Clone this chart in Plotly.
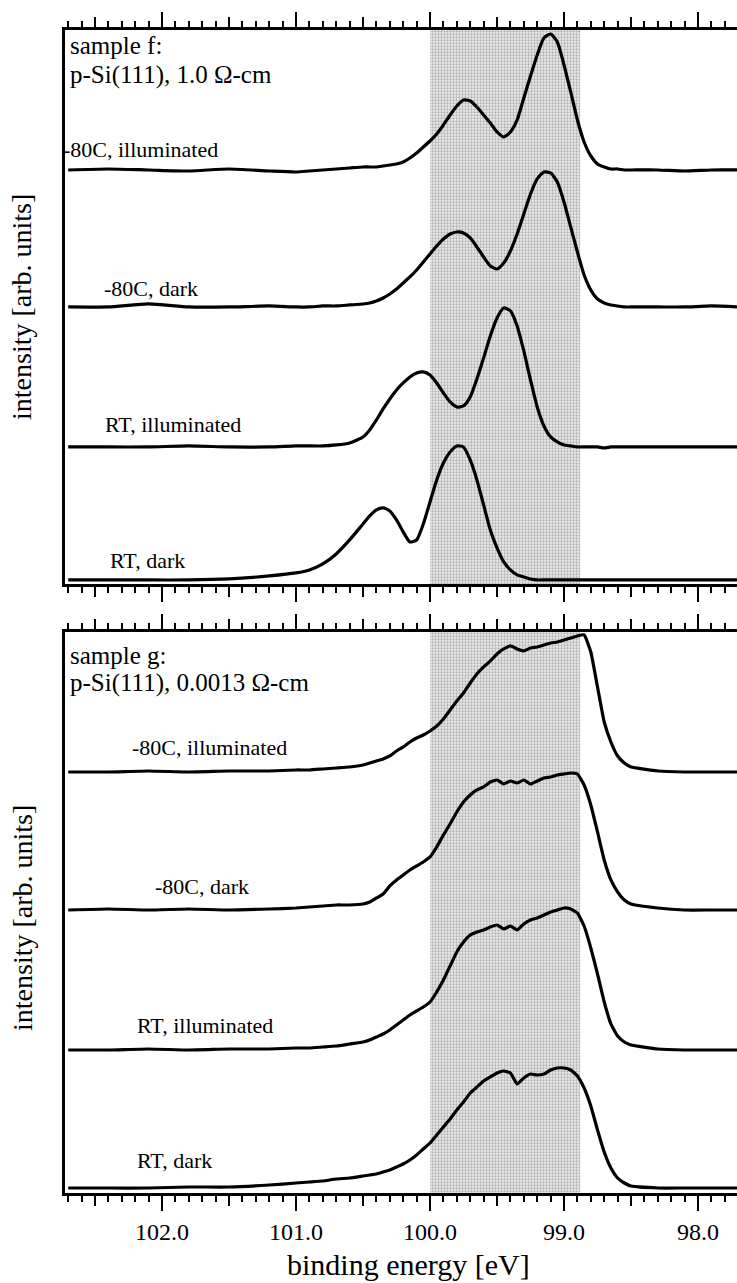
import plotly.graph_objects as go

# Binding-energy grid shared by all spectra [eV]
energy_ev = [102.7, 102.4, 102.1, 101.8, 101.5, 101.2, 101.0, 100.9, 100.8, 100.7,
             100.6, 100.5, 100.45, 100.4, 100.35, 100.3, 100.25, 100.2, 100.15, 100.1,
             100.05, 100.0, 99.95, 99.9, 99.85, 99.8, 99.75, 99.7, 99.65, 99.6,
             99.55, 99.5, 99.45, 99.4, 99.35, 99.3, 99.25, 99.2, 99.15, 99.1,
             99.05, 99.0, 98.95, 98.9, 98.85, 98.8, 98.75, 98.7, 98.65, 98.6,
             98.55, 98.5, 98.3, 98.1, 97.9, 97.7]

# Sample f: p-Si(111), 1.0 Ohm-cm
f_cold_light = [0.0, 0.1, 0.0, -0.1, 0.1, -0.1, -0.2, -0.1, 0.0, 0.1,
                0.2, 0.3, 0.3, 0.3, 0.4, 0.5, 0.6, 0.8, 1.2, 1.7,
                2.3, 2.9, 3.6, 4.5, 5.5, 6.4, 7.0, 6.9, 6.3, 5.5,
                4.7, 3.8, 3.3, 3.8, 5.0, 7.2, 9.4, 11.5, 13.2, 13.6,
                12.8, 10.5, 7.8, 5.0, 2.8, 1.4, 0.6, 0.3, 0.1, 0.1,
                0.0, 0.0, 0.0, -0.1, 0.0, 0.0]
f_cold_dark = [0.0, 0.0, 0.3, 0.0, 0.0, 0.1, 0.0, 0.0, 0.1, 0.1,
               0.2, 0.3, 0.4, 0.6, 0.9, 1.3, 1.8, 2.4, 3.0, 3.7,
               4.5, 5.3, 6.1, 6.8, 7.3, 7.5, 7.4, 6.9, 6.0, 5.0,
               4.1, 3.8, 4.4, 5.6, 7.3, 9.3, 11.3, 12.8, 13.5, 13.4,
               12.5, 10.5, 8.0, 5.5, 3.2, 1.7, 0.8, 0.4, 0.2, 0.1,
               0.0, 0.0, 0.0, 0.0, 0.1, 0.0]
f_rt_light = [0.0, 0.0, 0.0, 0.1, 0.0, 0.0, 0.1, 0.1, 0.1, 0.2,
              0.4, 1.0, 1.7, 2.7, 3.8, 4.8, 5.7, 6.4, 7.0, 7.4,
              7.5, 7.2, 6.4, 5.4, 4.5, 4.0, 4.1, 5.0, 6.8, 8.9,
              11.1, 12.9, 13.9, 13.6, 12.1, 9.6, 6.7, 4.0, 2.1, 1.0,
              0.5, 0.2, 0.1, 0.0, 0.0, 0.0, 0.0, -0.1, 0.0, 0.0,
              0.0, 0.0, 0.0, 0.0, 0.0, 0.0]
f_rt_dark = [0.0, 0.0, 0.0, 0.0, 0.1, 0.4, 0.7, 1.0, 1.6, 2.6,
             4.0, 5.6, 6.4, 7.0, 7.2, 6.9, 6.0, 4.8, 3.8, 4.0,
             5.6, 7.8, 10.0, 11.7, 12.8, 13.4, 13.3, 12.0, 10.0, 7.5,
             5.0, 3.2, 1.8, 1.0, 0.5, 0.3, 0.1, 0.0, 0.0, 0.0,
             0.0, 0.0, 0.0, 0.0, 0.0, 0.0, 0.0, 0.0, 0.0, 0.0,
             0.0, 0.0, 0.0, 0.0, 0.0, 0.0]

# Sample g: p-Si(111), 0.0013 Ohm-cm
g_cold_light = [0.0, 0.0, 0.1, 0.0, 0.1, 0.1, 0.2, 0.2, 0.3, 0.4,
                0.5, 0.7, 0.9, 1.1, 1.3, 1.6, 2.1, 2.5, 3.0, 3.4,
                3.7, 4.1, 4.6, 5.3, 6.2, 7.1, 7.9, 8.9, 9.8, 10.5,
                11.1, 11.8, 12.3, 12.6, 12.3, 12.1, 12.4, 12.5, 12.7, 12.9,
                13.0, 13.2, 13.4, 13.6, 13.7, 12.0, 8.5, 5.0, 3.0, 1.6,
                0.9, 0.5, 0.1, 0.0, 0.0, 0.0]
g_cold_dark = [0.0, 0.1, 0.0, 0.1, 0.0, 0.1, 0.2, 0.3, 0.4, 0.5,
               0.5, 0.6, 0.8, 1.2, 1.6, 2.4, 3.0, 3.5, 4.0, 4.4,
               4.8, 5.3, 6.3, 7.5, 8.6, 9.8, 10.8, 11.5, 12.0, 12.3,
               12.8, 13.0, 12.6, 12.9, 12.7, 13.0, 12.6, 12.9, 13.2, 13.3,
               13.5, 13.6, 13.7, 13.6, 12.5, 10.5, 7.8, 5.0, 3.0, 1.8,
               1.0, 0.6, 0.2, 0.0, 0.0, 0.0]
g_rt_light = [0.0, 0.0, 0.1, 0.0, 0.1, 0.1, 0.2, 0.2, 0.3, 0.4,
              0.6, 0.8, 1.0, 1.3, 1.6, 2.0, 2.5, 3.0, 3.5, 3.9,
              4.3, 4.8, 5.8, 7.0, 8.4, 9.8, 10.8, 11.5, 11.8, 12.0,
              12.3, 12.5, 12.1, 12.4, 12.0, 12.6, 13.0, 13.2, 13.5, 13.8,
              14.0, 14.2, 14.1, 13.7, 12.4, 10.2, 7.6, 4.8, 2.6, 1.4,
              0.8, 0.5, 0.1, 0.0, 0.0, 0.0]
g_rt_dark = [0.0, 0.0, 0.0, 0.1, 0.1, 0.3, 0.5, 0.6, 0.7, 0.9,
             1.0, 1.2, 1.3, 1.4, 1.6, 1.8, 2.1, 2.4, 2.8, 3.3,
             3.9, 4.5, 5.3, 6.1, 6.9, 7.8, 8.6, 9.5, 10.1, 10.7,
             11.1, 11.5, 11.7, 11.5, 10.4, 11.0, 11.4, 11.3, 11.4, 11.8,
             12.0, 12.0, 11.8, 11.2, 10.0, 8.2, 5.8, 3.6, 2.0, 1.0,
             0.5, 0.2, 0.0, 0.0, 0.0, 0.0]

top_labels = ["-80C, illuminated", "-80C, dark", "RT, illuminated", "RT, dark"]
bottom_labels = ["-80C, illuminated", "-80C, dark", "RT, illuminated", "RT, dark"]
top_spectra = [f_cold_light, f_cold_dark, f_rt_light, f_rt_dark]
bottom_spectra = [g_cold_light, g_cold_dark, g_rt_light, g_rt_dark]

# vertical stacking offsets of the spectra in each panel
top_offsets = [41.4, 27.7, 13.7, 0.4]
bottom_offsets = [42.1, 28.3, 14.3, 0.5]

# highlighted energy window [eV]
band_ev = [100.0, 98.88]

TOP_MAX = 55.4
BOTTOM_MAX = 56.1
X_RANGE = [102.724, 97.709]
SERIF = "Liberation Serif"
PLOT_L, PLOT_W = 65, 672          # plot area, px
PLOT_B, PLOT_H = 1193, 1163


def px_x(px):
    return (px - PLOT_L) / PLOT_W


def px_y(px):
    return (PLOT_B - px) / PLOT_H


fig = go.Figure()

# stippled band in both panels
band_center = (band_ev[0] + band_ev[1]) / 2
band_width = abs(band_ev[0] - band_ev[1])
for xa, ya, ymax in (("x2", "y2", TOP_MAX), ("x", "y", BOTTOM_MAX)):
    fig.add_trace(go.Bar(
        x=[band_center], y=[ymax], base=0, width=[band_width],
        xaxis=xa, yaxis=ya, showlegend=False, hoverinfo="skip",
        marker=dict(color="#e4e4e4", line=dict(width=0),
                    pattern=dict(shape=".", fgcolor="#6f6f6f", bgcolor="#eeeeee",
                                 size=3, solidity=0.45)),
    ))

for spec, off in zip(top_spectra, top_offsets):
    fig.add_trace(go.Scatter(
        x=energy_ev, y=[v + off for v in spec], mode="lines",
        line=dict(color="black", width=3.2, shape="spline", smoothing=0.6),
        xaxis="x2", yaxis="y2", showlegend=False))

for spec, off in zip(bottom_spectra, bottom_offsets):
    fig.add_trace(go.Scatter(
        x=energy_ev, y=[v + off for v in spec], mode="lines",
        line=dict(color="black", width=3.2, shape="spline", smoothing=0.4),
        xaxis="x", yaxis="y", showlegend=False))

base_x = dict(range=X_RANGE, showgrid=False, zeroline=False, showline=True,
              linecolor="black", linewidth=2.5, ticks="outside", mirror="ticks",
              tickcolor="black", tickwidth=2)
minor = dict(ticks="outside", dtick=0.1, tick0=98.0, ticklen=6, tickwidth=2,
             tickcolor="black", showgrid=False)

fig.update_layout(
    width=737, height=1283,
    margin=dict(l=PLOT_L, r=0, t=30, b=90),
    paper_bgcolor="white", plot_bgcolor="white",
    barmode="overlay",
    font=dict(family=SERIF, color="black"),
    xaxis=dict(base_x, anchor="y", tickmode="linear", tick0=98.0, dtick=0.5,
               ticklen=10, showticklabels=False, minor=minor),
    xaxis2=dict(base_x, anchor="y2", tickmode="linear", tick0=98.0, dtick=0.5,
                ticklen=10, showticklabels=False, minor=minor),
    xaxis3=dict(base_x, overlaying="x", anchor="y", tickmode="linear", tick0=98.0,
                dtick=1.0, ticklen=15, showticklabels=True, tickformat=".1f",
                tickfont=dict(family=SERIF, size=24)),
    xaxis4=dict(base_x, overlaying="x2", anchor="y2", tickmode="linear", tick0=98.0,
                dtick=1.0, ticklen=15, showticklabels=False),
    yaxis=dict(domain=[0, 0.4824], range=[0, BOTTOM_MAX], showgrid=False,
               zeroline=False, showline=True, linecolor="black", linewidth=2.5,
               ticks="", showticklabels=False),
    yaxis2=dict(domain=[0.5237, 1], range=[0, TOP_MAX], showgrid=False,
                zeroline=False, showline=True, linecolor="black", linewidth=2.5,
                ticks="", showticklabels=False),
)

# invisible anchors so the long-tick overlay axes are rendered
fig.add_trace(go.Scatter(x=[X_RANGE[0]], y=[0], xaxis="x3", yaxis="y", mode="markers",
                         marker=dict(opacity=0), showlegend=False, hoverinfo="skip"))
fig.add_trace(go.Scatter(x=[X_RANGE[0]], y=[0], xaxis="x4", yaxis="y2", mode="markers",
                         marker=dict(opacity=0), showlegend=False, hoverinfo="skip"))

ann = []
label_font = dict(family=SERIF, size=22, color="black")
# curve labels (left edge px, centre px)
top_label_pos = [(61, 150), (102, 289), (103, 425), (108, 560)]
bottom_label_pos = [(130, 747), (153, 886), (135, 1025), (135, 1160)]
for text, (lx, ly) in zip(top_labels + bottom_labels, top_label_pos + bottom_label_pos):
    ann.append(dict(x=px_x(lx), y=px_y(ly), xref="paper", yref="paper", text=text,
                    showarrow=False, xanchor="left", yanchor="middle", font=label_font))

title_font = dict(family=SERIF, size=25, color="black")
for text, ly in (("sample f:", 45), ("p-Si(111), 1.0 \u03a9-cm", 75),
                 ("sample g:", 655), ("p-Si(111), 0.0013 \u03a9-cm", 683)):
    ann.append(dict(x=px_x(68), y=px_y(ly), xref="paper", yref="paper", text=text,
                    showarrow=False, xanchor="left", yanchor="middle", font=title_font))

ytitle_font = dict(family=SERIF, size=28, color="black")
for ly in (307, 918):
    ann.append(dict(x=px_x(22), y=px_y(ly), xref="paper", yref="paper",
                    text="intensity [arb. units]", textangle=-90, showarrow=False,
                    xanchor="center", yanchor="middle", font=ytitle_font))

ann.append(dict(x=px_x(408), y=px_y(1264), xref="paper", yref="paper",
                text="binding energy [eV]", showarrow=False, xanchor="center",
                yanchor="middle", font=dict(family=SERIF, size=30, color="black")))

fig.update_layout(annotations=ann)
fig.write_html("out.html")
